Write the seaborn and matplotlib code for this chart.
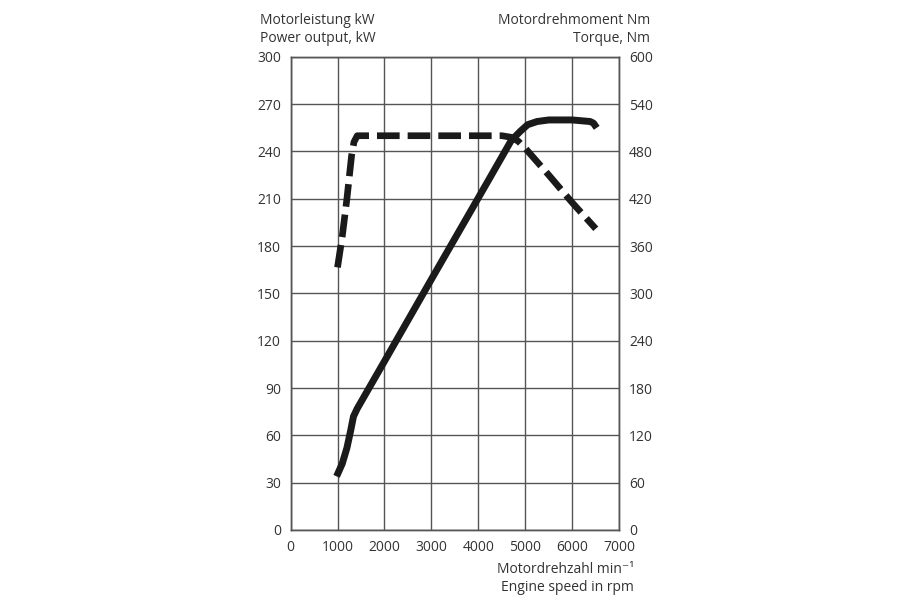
import numpy as np
import pandas as pd
import seaborn as sns
import matplotlib.pyplot as plt

# Leistung (kW) ueber Drehzahl
rpm_power = [980, 1100, 1200, 1280, 1340, 1420, 2000, 3000, 3600, 4200, 4700, 4900, 5050, 5250, 5500, 6000, 6380, 6450, 6520]
power_kw = [34, 42, 52, 63, 72, 77, 107, 159, 190, 221, 247, 253, 257, 259, 260, 260, 259, 258, 255]

# Drehmoment (Nm) ueber Drehzahl
rpm_torque = [1000, 1100, 1200, 1300, 1350, 1420, 2000, 3000, 4000, 4500, 4700, 4850, 5000, 5500, 6000, 6500]
torque_nm = [333, 372, 420, 475, 492, 500, 500, 500, 500, 500, 498, 493, 484, 450, 415, 382]

x_ticks = list(range(0, 7001, 1000))
left_ticks = list(range(0, 301, 30))
right_ticks = list(range(0, 601, 60))

sns.set_style("white")
plt.rcParams['font.family'] = ['Open Sans', 'DejaVu Sans']
txt = '#333333'
grid_c = '#555555'

fig = plt.figure(figsize=(9.08, 6.05), dpi=100)
ax = fig.add_axes([0.320, 0.124, 0.362, 0.782])
ax2 = ax.twinx()

df_p = pd.DataFrame({'rpm': rpm_power, 'kw': power_kw})
df_t = pd.DataFrame({'rpm': rpm_torque, 'nm': torque_nm})

sns.lineplot(data=df_p, x='rpm', y='kw', ax=ax, color='#1a1a1a', linewidth=5,
             sort=False, solid_capstyle='butt', solid_joinstyle='round', zorder=5)
sns.lineplot(data=df_t, x='rpm', y='nm', ax=ax2, color='#1a1a1a', linewidth=4.8,
             sort=False, dashes=False, linestyle=(0, (3.4, 1.2)),
             dash_capstyle='butt', dash_joinstyle='round', zorder=5)

ax.set_xlim(0, 7000)
ax.set_ylim(0, 300)
ax2.set_ylim(0, 600)
ax.set_xticks(x_ticks)
ax.set_yticks(left_ticks)
ax2.set_yticks(right_ticks)
ax.grid(True, color=grid_c, linewidth=1.0)
ax.set_axisbelow(True)
ax.set_xlabel('')
ax.set_ylabel('')
ax2.set_ylabel('')

ax.tick_params(axis='both', length=0, labelsize=10, labelcolor=txt)
ax.tick_params(axis='y', pad=7)
ax.tick_params(axis='x', pad=7)
ax2.tick_params(axis='y', length=0, labelsize=10, labelcolor=txt, pad=7)

for a in (ax, ax2):
    for s in a.spines.values():
        s.set_color(grid_c)
        s.set_linewidth(1.0)

fig.text(260 / 908, 1 - 13 / 605, 'Motorleistung kW\nPower output, kW', ha='left', va='top',
         fontsize=10, color=txt, linespacing=1.25)
fig.text(650 / 908, 1 - 13 / 605, 'Motordrehmoment Nm\nTorque, Nm', ha='right', va='top',
         fontsize=10, color=txt, linespacing=1.25)
fig.text(634 / 908, 1 - 562 / 605, 'Motordrehzahl min\u207b\u00b9\nEngine speed in rpm', ha='right', va='top',
         fontsize=10, color=txt, linespacing=1.25)

fig.savefig('out.png', dpi=100, facecolor='white')
